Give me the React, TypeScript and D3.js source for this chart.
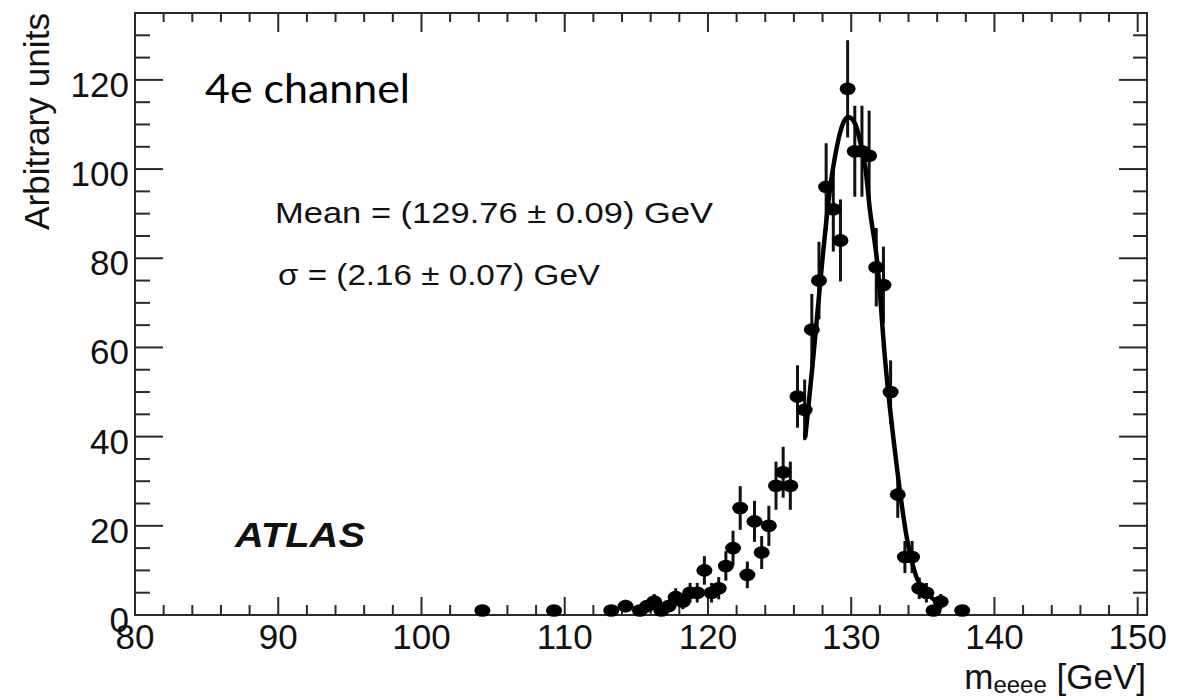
import React from 'react';
import * as d3 from 'd3';

// ---- data ----
const binCenters = [
  104.25, 109.25, 113.25, 114.25, 115.25, 115.75, 116.25, 116.75, 117.25, 117.75,
  118.25, 118.75, 119.25, 119.75, 120.25, 120.75, 121.25, 121.75, 122.25, 122.75,
  123.25, 123.75, 124.25, 124.75, 125.25, 125.75, 126.25, 126.75, 127.25, 127.75,
  128.25, 128.75, 129.25, 129.75, 130.25, 130.75, 131.25, 131.75, 132.25, 132.75,
  133.25, 133.75, 134.25, 134.75, 135.25, 135.75, 136.25, 137.75,
];
const counts = [
  1, 1, 1, 2, 1, 2, 3, 1, 2, 4,
  3, 5, 5, 10, 5, 6, 11, 15, 24, 9,
  21, 14, 20, 29, 32, 29, 49, 46, 64, 75,
  96, 91, 84, 118, 104, 104, 103, 78, 74, 50,
  27, 13, 13, 6, 5, 1, 3, 1,
];
const errors = [
  1, 1, 1, 1.4, 1, 1.4, 1.7, 1, 1.4, 2,
  1.7, 2.2, 2.2, 3.2, 2.2, 2.5, 3.3, 3.9, 4.9, 3,
  4.6, 3.7, 4.5, 5.4, 5.7, 5.4, 7, 6.8, 8, 8.7,
  9.8, 9.5, 9.2, 10.9, 10.2, 10.2, 10.1, 8.8, 8.6, 7.1,
  5.2, 3.6, 3.6, 2.4, 2.2, 1, 1.7, 1,
];
const fitX = [126.8, 127.3, 128.0, 128.5, 129.0, 129.4, 129.8, 130.3, 130.6, 131.0, 131.3, 131.8, 132.4, 133.1, 133.9, 134.5, 135.3, 136.2];
const fitY = [40, 56, 80, 95, 105, 110, 111.7, 110, 106.5, 100, 91, 79.6, 56, 35.5, 17, 9, 4.9, 2.5];

const xTickLabels = [80, 90, 100, 110, 120, 130, 140, 150];
const yTickLabels = [0, 20, 40, 60, 80, 100, 120];
const xMinorStep = 2;
const yMinorStep = 5;

const FONT = '"Liberation Sans", Arial, Helvetica, sans-serif';

export default function App() {
  const left = 135, right = 1147, top = 13, bottom = 615;
  const x = d3.scaleLinear().domain([80, 150.65]).range([left, right]);
  const y = d3.scaleLinear().domain([0, 135]).range([bottom, top]);

  const xMinor = d3.range(80, 150.01, xMinorStep);
  const yMinor = d3.range(0, 135.01, yMinorStep);

  const line = d3
    .line<[number, number]>()
    .x((d) => x(d[0]))
    .y((d) => y(d[1]))
    .curve(d3.curveMonotoneX);
  const fitPts: [number, number][] = fitX.map((v, i) => [v, fitY[i]]);

  const axisColor = '#2a2a2a';

  return (
    <svg
      width={1190}
      height={698}
      style={{ position: 'absolute', left: 0, top: 0, background: '#fff' }}
    >
      <rect x={0} y={0} width={1190} height={698} fill="#fff" />

      {/* x ticks bottom & top */}
      {xMinor.map((t) => {
        const major = Math.abs(t % 10) < 1e-6;
        const px = x(t);
        return (
          <g key={'xt' + t}>
            <line x1={px} x2={px} y1={bottom} y2={bottom - (major ? 18 : 10)} stroke={axisColor} strokeWidth={2} />
            <line x1={px} x2={px} y1={top} y2={top + (major ? 19 : 9)} stroke={axisColor} strokeWidth={2} />
          </g>
        );
      })}
      {/* y ticks left & right */}
      {yMinor.map((t) => {
        const major = Math.abs(t % 20) < 1e-6;
        const py = y(t);
        return (
          <g key={'yt' + t}>
            <line x1={left} x2={left + (major ? 28 : 15)} y1={py} y2={py} stroke={axisColor} strokeWidth={2} />
            <line x1={right} x2={right - (major ? 28 : 14)} y1={py} y2={py} stroke={axisColor} strokeWidth={2} />
          </g>
        );
      })}

      {/* frame */}
      <rect x={left} y={top} width={right - left} height={bottom - top} fill="none" stroke={axisColor} strokeWidth={2} />

      {/* tick labels */}
      {xTickLabels.map((t) => (
        <text key={'xl' + t} x={x(t)} y={649} textAnchor="middle" fontFamily={FONT} fontSize={35} fill="#111">
          {t}
        </text>
      ))}
      {yTickLabels.map((t) => (
        <text key={'yl' + t} x={129} y={y(t) + 17} textAnchor="end" fontFamily={FONT} fontSize={35} fill="#111">
          {t}
        </text>
      ))}

      {/* axis titles */}
      <text
        transform="translate(49,230) rotate(-90)"
        x={0}
        y={0}
        textAnchor="start"
        fontFamily={FONT}
        fontSize={35}
        fill="#111"
        textLength={217}
        lengthAdjust="spacingAndGlyphs"
      >
        Arbitrary units
      </text>
      <text x={1146} y={689} textAnchor="end" fontFamily={FONT} fontSize={35} fill="#111">
        m
        <tspan fontSize={24} dy={4}>eeee</tspan>
        <tspan dy={-4}> [GeV]</tspan>
      </text>

      {/* annotations */}
      <text x={205} y={103} fontFamily="Lato, 'Open Sans', sans-serif" fontSize={40} fill="#000" textLength={205} lengthAdjust="spacingAndGlyphs">
        4e channel
      </text>
      <text x={275} y={223} fontFamily={FONT} fontSize={29} fill="#111" textLength={438} lengthAdjust="spacingAndGlyphs">
        Mean = (129.76 ± 0.09) GeV
      </text>
      <text x={278} y={285} fontFamily={FONT} fontSize={29} fill="#111" textLength={322} lengthAdjust="spacingAndGlyphs">
        σ = (2.16 ± 0.07) GeV
      </text>
      <text x={235} y={547} fontFamily={FONT} fontSize={35} fontWeight="bold" fontStyle="italic" fill="#111" textLength={130} lengthAdjust="spacingAndGlyphs">
        ATLAS
      </text>

      {/* error bars */}
      {binCenters.map((c, i) => (
        <line
          key={'e' + i}
          x1={x(c)}
          x2={x(c)}
          y1={y(Math.max(0, counts[i] - errors[i]))}
          y2={y(counts[i] + errors[i])}
          stroke="#111"
          strokeWidth={3}
        />
      ))}

      {/* fit curve */}
      <path d={line(fitPts) || ''} fill="none" stroke="#000" strokeWidth={4.5} strokeLinejoin="round" strokeLinecap="round" />

      {/* markers */}
      {binCenters.map((c, i) => (
        <ellipse key={'m' + i} cx={x(c)} cy={y(counts[i])} rx={8} ry={6.3} fill="#000" />
      ))}
    </svg>
  );
}
